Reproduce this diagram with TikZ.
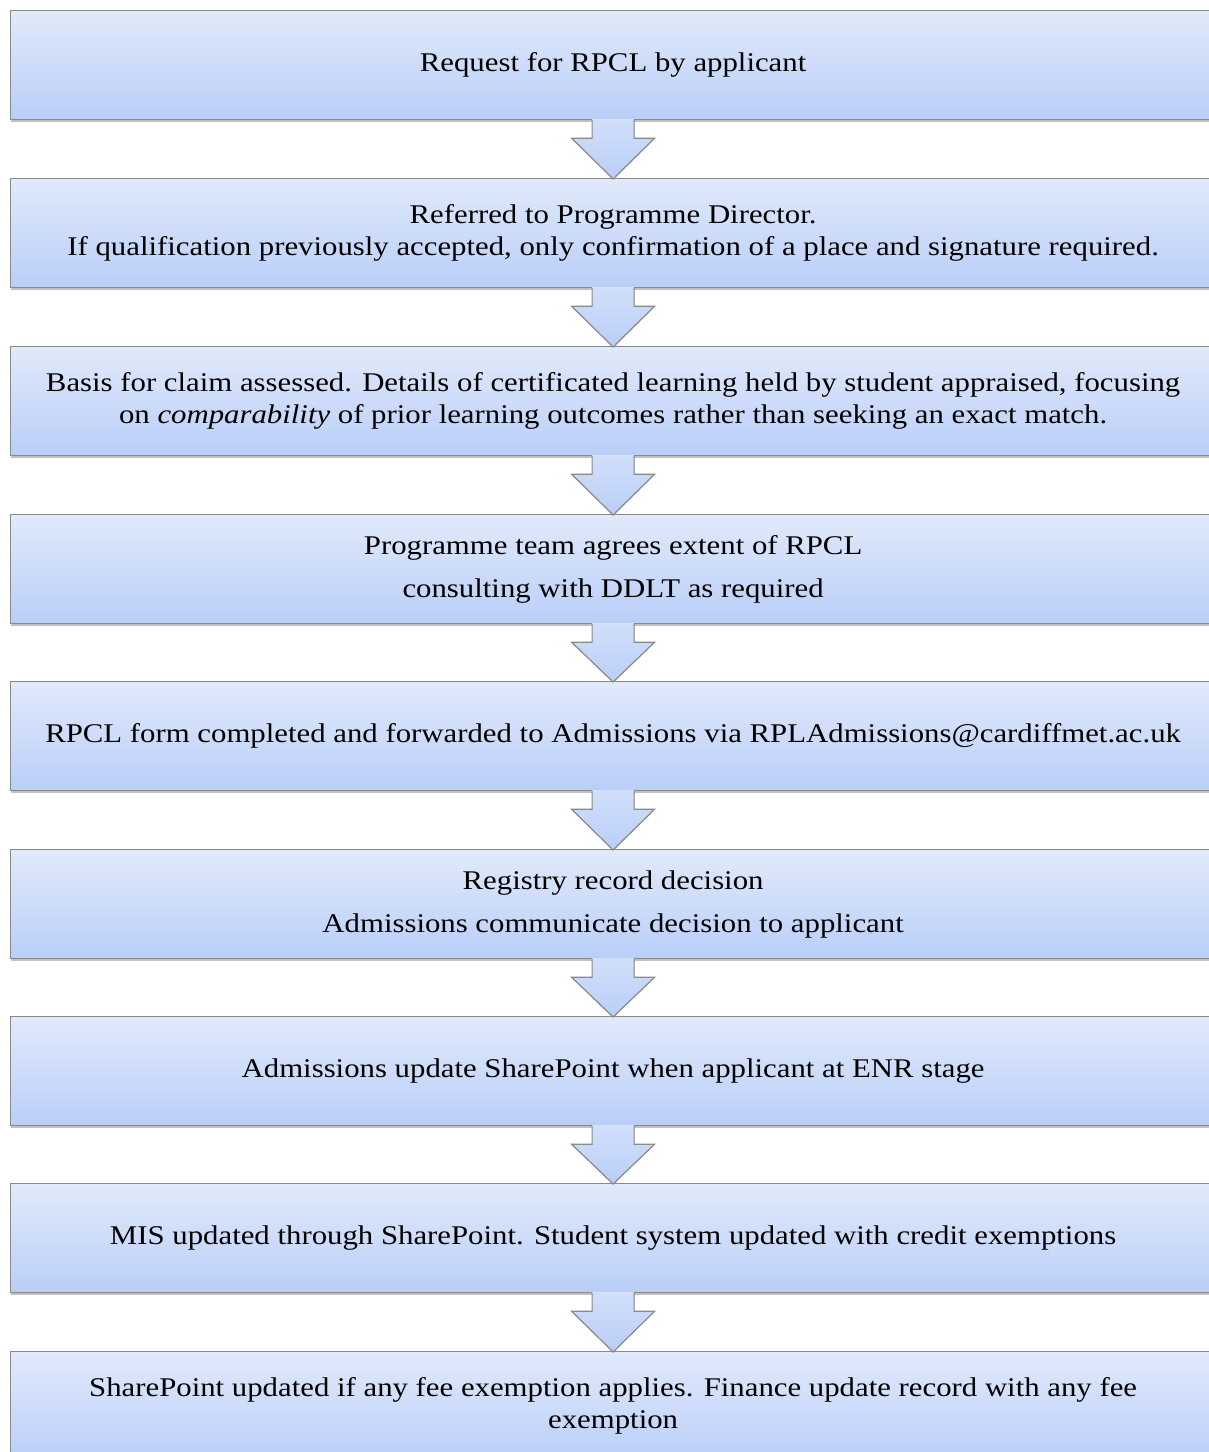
\documentclass[tikz,border=0pt]{standalone}
\usepackage{fontspec}
\setmainfont{Liberation Serif}[FakeStretch=1.14]
\usetikzlibrary{shadows,calc}
\definecolor{topb}{HTML}{E1EAFB}
\definecolor{botb}{HTML}{B9CEF8}
\definecolor{edgec}{HTML}{8A8A8A}
\begin{document}
\begin{tikzpicture}[x=1pt,y=-1pt,
  stepbox/.style={draw=edgec, line width=1.2pt, top color=topb, bottom color=botb,
    minimum width=1205pt, minimum height=109pt, anchor=north west, inner sep=0pt,
    align=center, font=\fontsize{27}{32}\selectfont,
    drop shadow={shadow xshift=0pt, shadow yshift=-2.5pt, opacity=0.35, fill=black!70}},
  arrowfill/.style={top color=topb!60!botb, bottom color=botb},
  arrowline/.style={draw=edgec, line width=1.2pt, line join=miter}
]
\useasboundingbox (0,0) rectangle (1209,1452);
\clip (0,0) rectangle (1209,1452);
\fill[white] (0,0) rectangle (1209,1452);
\node[stepbox] (b1) at (10,10) {Request for RPCL by applicant};
\node[stepbox] (b2) at (10,178) {Referred to Programme Director.\\If qualification previously accepted, only confirmation of a place and signature required.};
\node[stepbox] (b3) at (10,346) {Basis for claim assessed. Details of certificated learning held by student appraised, focusing\\on \textit{comparability} of prior learning outcomes rather than seeking an exact match.};
\node[stepbox] (b4) at (10,514) {Programme team agrees extent of RPCL\\[11pt]consulting with DDLT as required};
\node[stepbox] (b5) at (10,681) {RPCL form completed and forwarded to Admissions via RPLAdmissions@cardiffmet.ac.uk};
\node[stepbox] (b6) at (10,849) {Registry record decision\\[11pt]Admissions communicate decision to applicant};
\node[stepbox] (b7) at (10,1016) {Admissions update SharePoint when applicant at ENR stage};
\node[stepbox] (b8) at (10,1183) {MIS updated through SharePoint. Student system updated with credit exemptions};
\node[stepbox] (b9) at (10,1351) {SharePoint updated if any fee exemption applies. Finance update record with any fee\\exemption};
\foreach \a/\b in {b1/b2,b2/b3,b3/b4,b4/b5,b5/b6,b6/b7,b7/b8,b8/b9}{
  \fill[arrowfill]
    ($(\a.south)+(-21,-1)$) -- ($(\a.south)+(-21,18)$) -- ($(\a.south)+(-41.5,18)$) -- ($(\b.north)+(0,1)$)
    -- ($(\a.south)+(41.5,18)$) -- ($(\a.south)+(21,18)$) -- ($(\a.south)+(21,-1)$) -- cycle;
  \draw[arrowline]
    ($(\a.south)+(-21,0)$) -- ($(\a.south)+(-21,18)$) -- ($(\a.south)+(-41.5,18)$) -- ($(\b.north)+(0,1)$)
    -- ($(\a.south)+(41.5,18)$) -- ($(\a.south)+(21,18)$) -- ($(\a.south)+(21,0)$);
}
\end{tikzpicture}
\end{document}
